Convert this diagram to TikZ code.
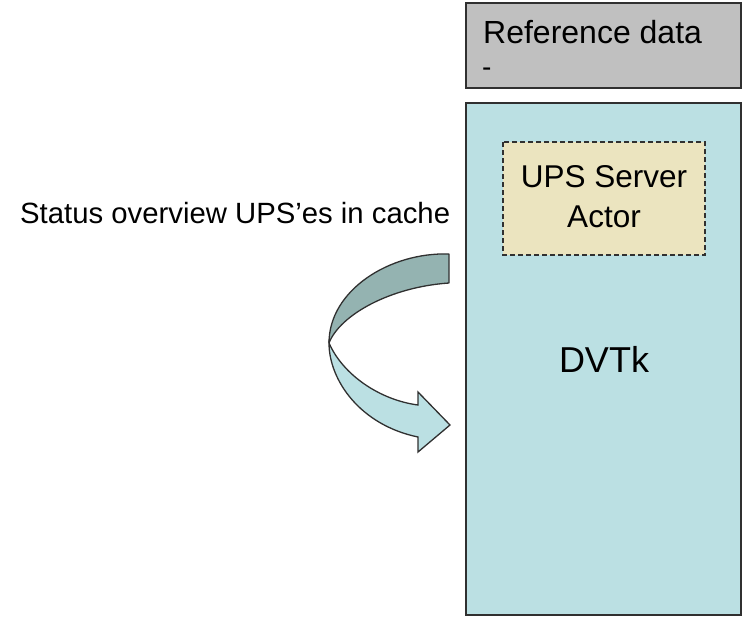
\documentclass[tikz,border=0pt]{standalone}
\usepackage{fontspec}
\setmainfont{Liberation Sans}
\definecolor{refgray}{HTML}{C0C0C0}
\definecolor{dvtkfill}{HTML}{BBE0E3}
\definecolor{upsfill}{HTML}{EBE4BF}
\definecolor{arrowdark}{HTML}{94B3B1}
\definecolor{edgegray}{HTML}{303030}
\tikzset{
  boxstyle/.style={draw=edgegray, line width=1.8pt},
  lbl/.style={inner sep=0pt, text=black},
}
\begin{document}
\begin{tikzpicture}[x=1pt,y=-1pt]
\useasboundingbox (0,0) rectangle (744,619);
% reference data box
\draw[boxstyle, fill=refgray] (466,3) rectangle (741,88);
\node[lbl, anchor=base west, font=\fontsize{32}{35}\selectfont] (reftext) at (483,43) {Reference data};
\node[lbl, anchor=base west, font=\fontsize{28}{35}\selectfont] (refdash) at (482,76) {-};
% DVTk box
\draw[boxstyle, fill=dvtkfill] (466,103) rectangle (741,615);
\node[lbl, anchor=base, font=\fontsize{36}{40}\selectfont] (dvtk) at (604,372) {DVTk};
% UPS box
\draw[draw=edgegray, line width=1.3pt, dash pattern=on 5pt off 3pt, fill=upsfill] (503,142) rectangle (705,255);
\node[lbl, anchor=base, font=\fontsize{31.5}{35}\selectfont] (ups1) at (604,187) {UPS Server};
\node[lbl, anchor=base, font=\fontsize{31.5}{35}\selectfont] (ups2) at (604,227) {Actor};
% status text
\node[lbl, anchor=base west, font=\fontsize{29.3}{32}\selectfont] (status) at (20,223) {Status overview UPS’es in cache};
% curved arrow
\draw[draw=edgegray, line width=1.3pt, fill=arrowdark, line join=round]
  (449,254) .. controls (390,252) and (329,290) .. (329,343)
  .. controls (340,315) and (390,287) .. (449,283) -- cycle;
\draw[draw=edgegray, line width=1.3pt, fill=dvtkfill, line join=miter]
  (329,343) .. controls (329,380) and (360,425) .. (418,437)
  -- (418,452) -- (450,425) -- (418,392) -- (418,405)
  .. controls (380,400) and (343,375) .. (329,343) -- cycle;
\end{tikzpicture}
\end{document}
